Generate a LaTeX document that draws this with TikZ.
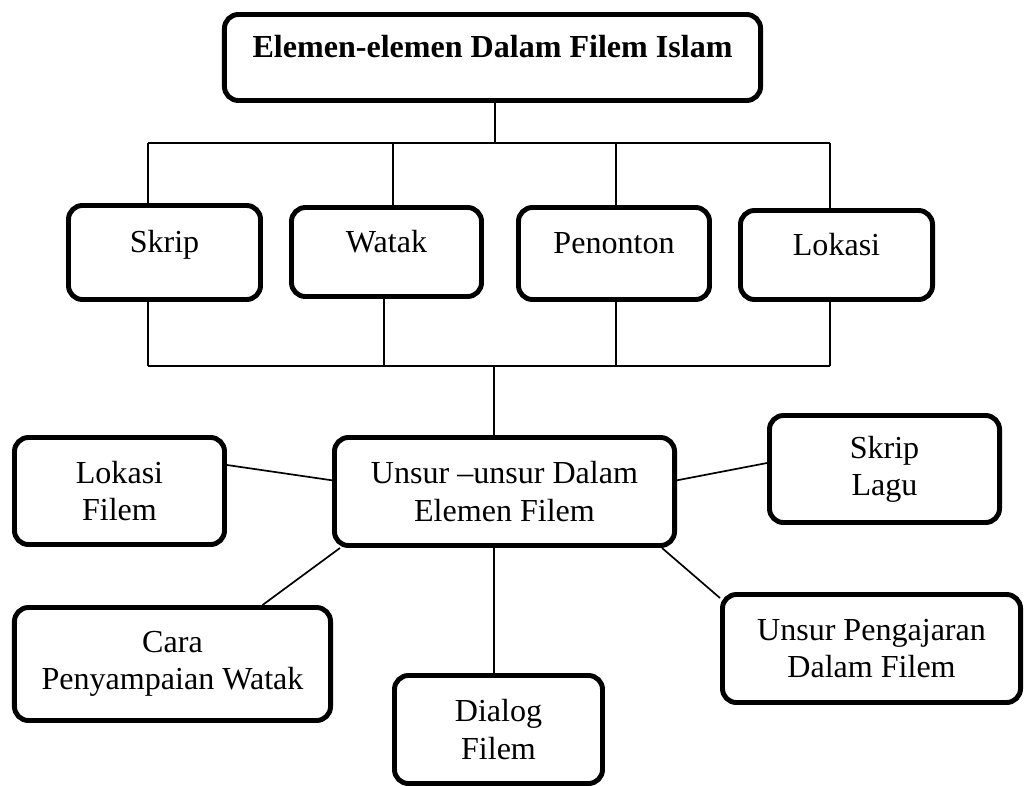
\documentclass[tikz,border=0pt]{standalone}
\usepackage{fontspec}
\setmainfont{Liberation Serif}
\usetikzlibrary{positioning}

\begin{document}
\begin{tikzpicture}[
    x=0.025cm, y=-0.025cm,
    box/.style={rectangle, draw=black, line width=3.5pt, rounded corners=0.35cm,
                inner sep=0pt, align=center,
                font=\fontsize{22.8}{26.4}\selectfont},
    one line/.style={text height=0.7em, text depth=0.64em},
    link/.style={line width=1.2pt}
]
\useasboundingbox (0,0) rectangle (1024,785);

% Top box - main title
\node[box, one line, minimum width=13.4cm, minimum height=2.15cm,
      font=\fontsize{22.8}{26.4}\selectfont\bfseries] (title) at (492.5,57.5)
      {Elemen-elemen Dalam Filem Islam};

% Row of four elements
\node[box, one line, minimum width=4.8cm, minimum height=2.35cm] (skrip) at (164.5,252.5) {Skrip};
\node[box, one line, minimum width=4.75cm, minimum height=2.225cm] (watak) at (386.5,252) {Watak};
\node[box, one line, minimum width=4.775cm, minimum height=2.3cm] (penonton) at (614,253.5) {Penonton};
\node[box, one line, minimum width=4.8cm, minimum height=2.225cm] (lokasi) at (836.5,255) {Lokasi};

% Centre box
\node[box, minimum width=8.5cm, minimum height=2.7cm] (unsur) at (504.5,491.5)
      {Unsur --unsur Dalam\\Elemen Filem};

% Boxes round the centre box
\node[box, minimum width=5.25cm, minimum height=2.675cm] (lokfilem) at (119.5,491) {Lokasi\\Filem};
\node[box, minimum width=5.75cm, minimum height=2.675cm] (skriplagu) at (884.5,469) {Skrip\\Lagu};
\node[box, minimum width=7.9cm, minimum height=2.825cm] (cara) at (172.5,664) {Cara\\Penyampaian Watak};
\node[box, minimum width=7.45cm, minimum height=2.7cm] (pengajaran) at (871.5,648.5) {Unsur Pengajaran\\Dalam Filem};
\node[box, minimum width=5.2cm, minimum height=2.7cm] (dialog) at (498.5,729.5) {Dialog\\Filem};

% Upper bus
\coordinate (t1) at (148,143);
\coordinate (t2) at (393,143);
\coordinate (t3) at (616,143);
\coordinate (t4) at (830,143);
\draw[link] (title.south -| 495,0) -- (495,143);
\draw[link] (t1) -- (t4);
\draw[link] (t1) -- (t1 |- skrip.north);
\draw[link] (t2) -- (t2 |- watak.north);
\draw[link] (t3) -- (t3 |- penonton.north);
\draw[link] (t4) -- (t4 |- lokasi.north);

% Lower bus
\coordinate (b0) at (494,366);
\coordinate (b1) at (148,366);
\coordinate (b2) at (384,366);
\coordinate (b3) at (616,366);
\coordinate (b4) at (830,366);
\draw[link] (b1 |- skrip.south) -- (b1);
\draw[link] (b2 |- watak.south) -- (b2);
\draw[link] (b3 |- penonton.south) -- (b3);
\draw[link] (b4 |- lokasi.south) -- (b4);
\draw[link] (b1) -- (b4);
\draw[link] (b0) -- (b0 |- unsur.north);

% Spokes from the centre box
\draw[link] ([yshift=0.65cm]lokfilem.east) -- ([yshift=0.28cm]unsur.west);
\draw[link] ([yshift=0.28cm]unsur.east) -- ([yshift=0.15cm]skriplagu.west);
\draw[link] ([xshift=0.2cm]unsur.south west) -- ([xshift=2.25cm]cara.north);
\draw[link] (b0 |- unsur.south) -- (b0 |- dialog.north);
\draw[link] ([xshift=-0.375cm]unsur.south east) -- ([yshift=-0.15cm]pengajaran.north west);

\end{tikzpicture}
\end{document}
